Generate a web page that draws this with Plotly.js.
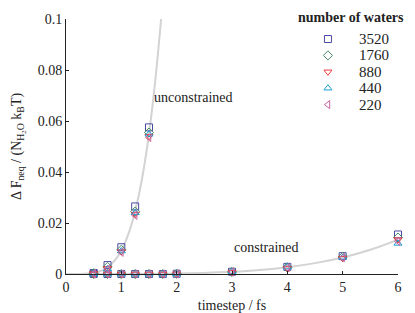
<!DOCTYPE html>
<html>
<head>
<meta charset="utf-8">
<script src="https://cdn.plot.ly/plotly-3.0.1.min.js"></script>
<style>html,body{margin:0;padding:0;background:#fff;}#chart{width:415px;height:313px;}</style>
</head>
<body>
<div id="chart"></div>
<script>
// Timesteps (fs)
const unconstrainedX = [0.5, 0.75, 1.0, 1.25, 1.5];
const constrainedX = [0.5, 0.75, 1.0, 1.25, 1.5, 1.75, 2, 3, 4, 5, 6];

// Series names (number of waters)
const seriesNames = ["3520", "1760", "880", "440", "220"];
const legendTitle = "number of waters";

// Unconstrained values per series
const unc3520 = [0.0004, 0.0035, 0.0105, 0.0265, 0.0575];
const unc1760 = [0.0003, 0.0028, 0.0095, 0.0245, 0.0555];
const unc880  = [0.0002, 0.0022, 0.0088, 0.0235, 0.0540];
const unc440  = [0.0003, 0.0020, 0.0090, 0.0240, 0.0548];
const unc220  = [0.0002, 0.0018, 0.0085, 0.0230, 0.0535];

// Constrained values per series
const con3520 = [0, 0, 0, 0, 0, 0, 0.0001, 0.0009, 0.0028, 0.0070, 0.0155];
const con1760 = [0, 0, 0, 0, 0, 0, 0.0001, 0.0008, 0.0026, 0.0067, 0.0143];
const con880  = [0, 0, 0, 0, 0, 0, 0.0001, 0.0007, 0.0022, 0.0062, 0.0135];
const con440  = [0, 0, 0, 0, 0, 0, 0.0001, 0.0009, 0.0027, 0.0065, 0.0120];
const con220  = [0, 0, 0, 0, 0, 0, 0.0001, 0.0008, 0.0024, 0.0064, 0.0128];

// Fit curves
const uncCurveX = [0, 0.25, 0.5, 0.6, 0.7, 0.8, 0.9, 1.0, 1.1, 1.2, 1.3, 1.4, 1.5, 1.6, 1.7, 1.75];
const uncCurveY = [0, 0.00002, 0.00044, 0.00098, 0.00193, 0.00346, 0.0058, 0.00924, 0.01405, 0.0206, 0.0293, 0.0406, 0.055, 0.0731, 0.0954, 0.1083];
const conCurveX = [0, 0.5, 1, 1.5, 2, 2.5, 3, 3.5, 4, 4.5, 5, 5.5, 6];
const conCurveY = [0, 0.0000007, 0.0000104, 0.0000527, 0.000166, 0.000406, 0.000842, 0.00156, 0.00266, 0.00426, 0.0065, 0.00952, 0.0135];

const uncData = [unc3520, unc1760, unc880, unc440, unc220];
const conData = [con3520, con1760, con880, con440, con220];
const symbols = ["square-open", "diamond-open", "triangle-down-open", "triangle-up-open", "triangle-left-open"];
const colors = ["#4b4ba3", "#4a8a66", "#ec3a42", "#1e9fd2", "#c865a0"];

const FONT = "Liberation Serif";
const TXT = "#222";

// Legend placement (layout constants, paper fractions of plot width)
const LEG_SYM_X = 0.789;
const LEG_TEXT_X = 0.876;
const LEG_TITLE_X = 0.857;

const traces = [
  {x: uncCurveX, y: uncCurveY, mode: "lines", line: {color: "#d3d3d3", width: 2, shape: "spline"}, showlegend: false, hoverinfo: "skip"},
  {x: conCurveX, y: conCurveY, mode: "lines", line: {color: "#d3d3d3", width: 2, shape: "spline"}, showlegend: false, hoverinfo: "skip", cliponaxis: false}
];
for (let i = 0; i < seriesNames.length; i++) {
  traces.push({
    x: unconstrainedX.concat(constrainedX),
    y: uncData[i].concat(conData[i]),
    mode: "markers",
    name: seriesNames[i],
    showlegend: false,
    cliponaxis: false,
    marker: {symbol: symbols[i], color: colors[i], size: 7, line: {width: 1, color: colors[i]}}
  });
}
// Legend symbols, one row per series, on a hidden overlay axis
traces.push({
  x: seriesNames.map(() => LEG_SYM_X),
  y: seriesNames.map((_, i) => -i),
  xaxis: "x2", yaxis: "y2",
  mode: "markers", showlegend: false, cliponaxis: false, hoverinfo: "skip",
  marker: {symbol: symbols, color: colors, size: 7, line: {width: 1, color: colors}}
});

const annotations = [
  {x: 1.56, y: 0.0694, xref: "x", yref: "y", text: "unconstrained", showarrow: false, xanchor: "left", yanchor: "middle", font: {family: FONT, size: 14, color: TXT}},
  {x: 3.0, y: 0.0102, xref: "x", yref: "y", text: "constrained", showarrow: false, xanchor: "left", yanchor: "middle", font: {family: FONT, size: 14, color: TXT}},
  {x: LEG_TITLE_X, y: 1.004, xref: "paper", yref: "paper", text: "<b>" + legendTitle + "</b>", showarrow: false, xanchor: "center", yanchor: "middle", font: {family: FONT, size: 14, color: TXT}}
];
seriesNames.forEach((n, i) => {
  annotations.push({x: LEG_TEXT_X, y: -i, xref: "paper", yref: "y2", text: n, showarrow: false, xanchor: "left", yanchor: "middle", font: {family: FONT, size: 15, color: TXT}});
});

const layout = {
  width: 415, height: 313,
  margin: {l: 66, r: 17, t: 19, b: 39},
  paper_bgcolor: "#fff", plot_bgcolor: "rgba(0,0,0,0)",
  font: {family: FONT, size: 14, color: TXT},
  showlegend: false,
  xaxis: {
    range: [0, 6], tickvals: [0,1,2,3,4,5,6], ticks: "inside", ticklen: 3, tickcolor: TXT,
    showline: true, linecolor: TXT, linewidth: 1, showgrid: false, zeroline: false,
    title: {text: "timestep / fs", font: {family: FONT, size: 14, color: TXT}, standoff: 6},
    tickfont: {family: FONT, size: 14, color: TXT}
  },
  yaxis: {
    range: [0, 0.1], tickvals: [0, 0.02, 0.04, 0.06, 0.08, 0.1], ticktext: ["0","0.02","0.04","0.06","0.08","0.1"],
    ticks: "inside", ticklen: 3, tickcolor: TXT,
    showline: true, linecolor: TXT, linewidth: 1, showgrid: false, zeroline: false,
    title: {text: "Δ F<sub>neq</sub> / (N<sub>H<sub>2</sub>O</sub> k<sub>B</sub>T)", font: {family: FONT, size: 14, color: TXT}, standoff: 12},
    tickfont: {family: FONT, size: 14, color: TXT}
  },
  xaxis2: {overlaying: "x", anchor: "y2", range: [0, 1], visible: false, fixedrange: true},
  yaxis2: {overlaying: "y", anchor: "x2", range: [-14.33, 1.22], visible: false, fixedrange: true},
  annotations: annotations
};

Plotly.newPlot("chart", traces, layout, {displayModeBar: false, staticPlot: true});
</script>
</body>
</html>
